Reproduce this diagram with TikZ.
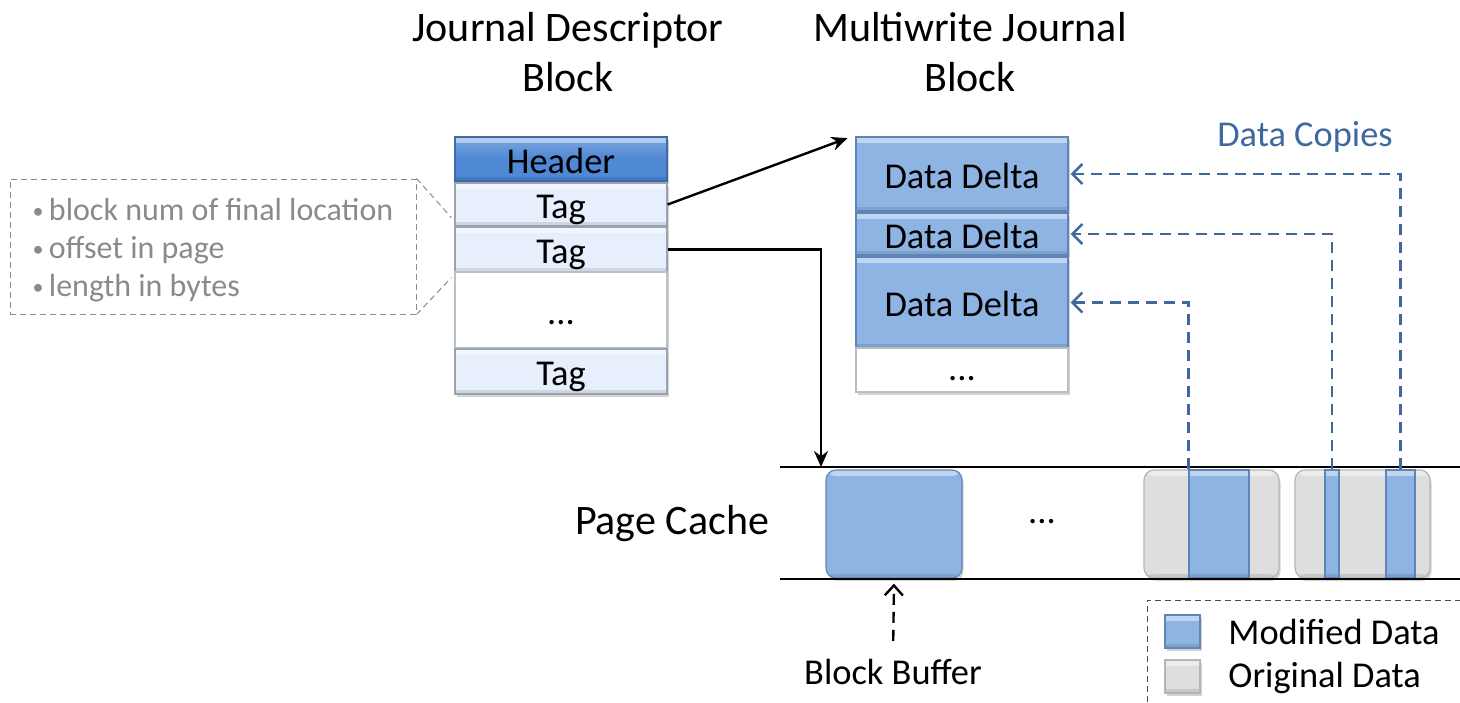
\documentclass[tikz,border=0pt]{standalone}
\usepackage{fontspec}
\setmainfont{Carlito}
\usetikzlibrary{arrows.meta,shadows,calc}
\definecolor{modblue}{HTML}{8DB4E2}
\definecolor{modborder}{HTML}{5F85B8}
\definecolor{hdrblue}{HTML}{4F88D4}
\definecolor{hdrborder}{HTML}{3D6BA8}
\definecolor{tagfill}{HTML}{E6EFFB}
\definecolor{tagborder}{HTML}{9AA3B0}
\definecolor{origfill}{HTML}{DEDEDE}
\definecolor{origborder}{HTML}{B5B5B5}
\definecolor{copyblue}{HTML}{3F699E}
\definecolor{calloutgray}{HTML}{8A8A8A}
\tikzset{
  big/.style={font=\fontsize{21}{25}\selectfont},
  med/.style={font=\fontsize{18.2}{20}\selectfont},
  shade/.style={drop shadow={shadow xshift=0.8pt,shadow yshift=-1.5pt,opacity=0.35}},
  bevel/.style={path picture={
      \fill[white,opacity=0.45] (path picture bounding box.north west) rectangle ([yshift=-3pt]path picture bounding box.north east);
      \fill[black,opacity=0.10] (path picture bounding box.south west) rectangle ([yshift=2pt]path picture bounding box.south east);}},
  cell/.style={draw,line width=0.6pt,inner sep=0pt,minimum width=106pt,med,shade,text height=15pt,text depth=1pt},
  hdr/.style={cell,bevel,top color=hdrblue!75!white,bottom color=hdrblue,middle color=hdrblue,draw=hdrborder},
  tagbox/.style={cell,bevel,fill=tagfill,draw=tagborder},
  dotbox/.style={cell,fill=white,draw=tagborder!70},
  dd/.style={cell,bevel,fill=modblue,draw=modborder},
  pagebox/.style={draw,line width=0.6pt,inner sep=0pt,rounded corners=5pt,shade,bevel},
  modbox/.style={pagebox,fill=modblue,draw=modborder},
  origbox/.style={pagebox,fill=origfill,draw=origborder},
  strip/.style={draw=modborder,line width=0.6pt,fill=modblue,inner sep=0pt,minimum height=54pt,bevel},
  swatch/.style={draw,line width=0.6pt,inner sep=0pt,minimum width=17.5pt,minimum height=16.5pt,shade,bevel},
  blk/.style={line width=1.2pt,-{Stealth[length=8pt,width=7pt]}},
  copyarr/.style={draw=copyblue,line width=1.2pt,dash pattern=on 5.5pt off 3.5pt,-{Straight Barb[length=5pt,width=10pt]}},
  bbarr/.style={line width=1.2pt,dash pattern=on 5.5pt off 3.5pt,-{Straight Barb[length=5pt,width=9pt]}},
  calloutline/.style={draw=calloutgray,line width=0.5pt,densely dashed},
}
\begin{document}
\begin{tikzpicture}[x=0.5pt,y=-0.5pt]
\useasboundingbox (0,0) rectangle (1460,702);
% titles
\node[big,align=center,inner sep=0pt] (t1) at (568,52) {Journal Descriptor\\Block};
\node[big,align=center,inner sep=0pt] (t2) at (970,52) {Multiwrite Journal\\Block};
% descriptor block
\node[hdr,minimum height=22pt] (hdr) at (561,159) {Header};
\node[tagbox,minimum height=21.5pt] (tag1) at (561,204.5) {Tag};
\node[tagbox,minimum height=22.5pt] (tag2) at (561,249.5) {Tag};
\node[dotbox,minimum height=38pt] (dots1) at (561,310) {...};
\node[tagbox,minimum height=22.5pt] (tag3) at (561,371.5) {Tag};
% multiwrite block
\node[dd,minimum height=37pt] (dd1) at (962,174) {Data Delta};
\node[dd,minimum height=21pt] (dd2) at (962,234) {Data Delta};
\node[dd,minimum height=45.5pt] (dd3) at (962,302.5) {Data Delta};
\node[dotbox,minimum height=22pt,text height=13pt,text depth=3pt] (dots2) at (962,370) {...};
% callout
\node[draw=calloutgray,line width=0.5pt,densely dashed,minimum width=203pt,minimum height=67.5pt,inner sep=0pt,
      align=left,text=calloutgray,font=\fontsize{16}{19}\selectfont] (callout) at (213,246.5)
  {\rule{0pt}{15pt}\raisebox{1pt}{\fontsize{11}{11}\selectfont\textbullet}\,block num of final location\\
   \raisebox{1pt}{\fontsize{11}{11}\selectfont\textbullet}\,offset in page\\
   \raisebox{1pt}{\fontsize{11}{11}\selectfont\textbullet}\,length in bytes};
\draw[calloutline] (callout.north east) -- ($(tag1.south west)+(-3,-9)$);
\draw[calloutline] (callout.south east) -- ($(tag2.south west)+(-3,5)$);
% page cache
\coordinate (l1a) at (780,467); \coordinate (l1b) at (1460,467);
\coordinate (l2a) at (780,579); \coordinate (l2b) at (1460,579);
\node[big,inner sep=0pt] (pc) at (672,524) {Page Cache};
\node[modbox,minimum width=68pt,minimum height=54pt] (bb) at (894,524) {};
\node[med,inner sep=0pt] (pdots) at (1042,522) {...};
\node[origbox,minimum width=67.5pt,minimum height=54pt] (g1) at (1211.5,524) {};
\node[origbox,minimum width=67.5pt,minimum height=54pt] (g2) at (1362.5,524) {};
\node[strip,minimum width=30pt] (s1) at (1219,524) {};
\node[strip,minimum width=7pt] (s2) at (1332,524) {};
\node[strip,minimum width=14.5pt] (s3) at (1400.5,524) {};
\draw[line width=1.2pt] (l1a) -- (l1b);
\draw[line width=1.2pt] (l2a) -- (l2b);
% arrows
\draw[blk,shorten >=1pt] (tag1.east) -- ($(dd1.north west)+(-6,1)$);
\coordinate (pctop) at (821,467);
\draw[blk] (tag2.east) -| (pctop);
\draw[copyarr,shorten >=1pt] (s3.north) |- (dd1.east);
\draw[copyarr,shorten >=1pt] (s2.north) |- (dd2.east);
\draw[copyarr,shorten >=1pt] (s1.north west) |- (dd3.east);
\node[med,text=copyblue,inner sep=0pt] (dc) at (1305,137) {Data Copies};
% block buffer
\node[med,inner sep=0pt] (bbl) at (893,672) {Block Buffer};
\draw[bbarr,shorten <=9pt,shorten >=2.5pt] (bbl.north) -- (bb.south);
% legend
\draw[line width=0.5pt,densely dashed,draw=black!70] (1147,702) -- (1147,600) -- (1460,600);
\node[swatch,fill=modblue,draw=modborder] (lm) at (1182.5,631.5) {};
\node[swatch,fill=origfill,draw=origborder] (lo) at (1182.5,676.5) {};
\node[med,anchor=west,inner sep=0pt] (lmt) at (1228,632) {Modified Data};
\node[med,anchor=west,inner sep=0pt] (lot) at (1228,678) {Original Data};
\end{tikzpicture}
\end{document}
